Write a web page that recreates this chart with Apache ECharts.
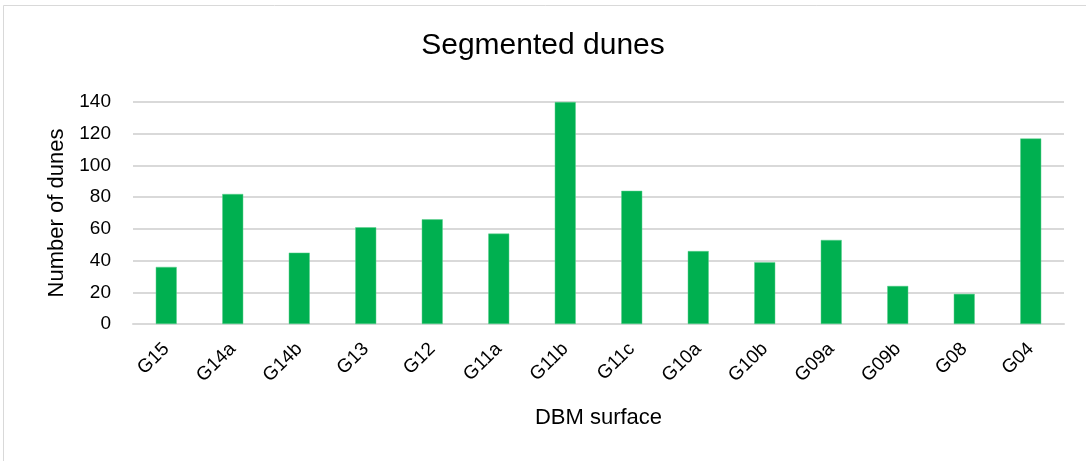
<!DOCTYPE html>
<html><head><meta charset="utf-8">
<script src="https://cdn.jsdelivr.net/npm/echarts@6/dist/echarts.min.js"></script>
<style>html,body{margin:0;padding:0;background:#fff}#c{width:1086px;height:461px}</style>
</head><body><div id="c"></div>
<script>
const categories = ['G15','G14a','G14b','G13','G12','G11a','G11b','G11c','G10a','G10b','G09a','G09b','G08','G04'];
const dunes = [36, 82, 45, 61, 66, 57, 140, 84, 46, 39, 53, 24, 19, 117];
const titleText = 'Segmented dunes';
const xName = 'DBM surface';
const yName = 'Number of dunes';

const chart = echarts.init(document.getElementById('c'), null, {renderer:'canvas'});
const font = '"Liberation Sans", Arial, sans-serif';
chart.setOption({
  animation: false,
  backgroundColor: '#fff',
  graphic: [{type:'rect', shape:{x:3.5, y:5.5, width:1100, height:500}, style:{fill:'none', stroke:'#d9d9d9', lineWidth:1}, silent:true}],
  title: {text: titleText, left: 'center', top: 26, textStyle:{fontFamily: font, fontSize: 30, fontWeight:'normal', color:'#000'}},
  grid: {left:133, right:22, top:102, bottom:137, containLabel:false},
  xAxis: {
    type:'category', data: categories,
    name: xName, nameLocation:'middle', nameGap: 83,
    nameTextStyle:{fontFamily: font, fontSize: 22, color:'#000'},
    axisLine:{show:true, lineStyle:{color:'#d9d9d9', width:2}},
    axisTick:{show:false},
    axisLabel:{rotate:45, margin:22, fontFamily: font, fontSize:19, color:'#000'}
  },
  yAxis: {
    type:'value', min:0, max:140, interval:20,
    name: yName, nameLocation:'middle', nameGap: 62,
    nameTextStyle:{fontFamily: font, fontSize: 22, color:'#000'},
    axisLine:{show:false}, axisTick:{show:false},
    axisLabel:{margin:22, fontFamily: font, fontSize:19, color:'#000'},
    splitLine:{lineStyle:{color:'#d9d9d9', width:2}}
  },
  series: [{
    type:'bar', data: dunes, barWidth: 21,
    itemStyle:{color:'#00B050', borderColor:'#5fd08f', borderWidth:0.5}
  }]
});
</script></body></html>
